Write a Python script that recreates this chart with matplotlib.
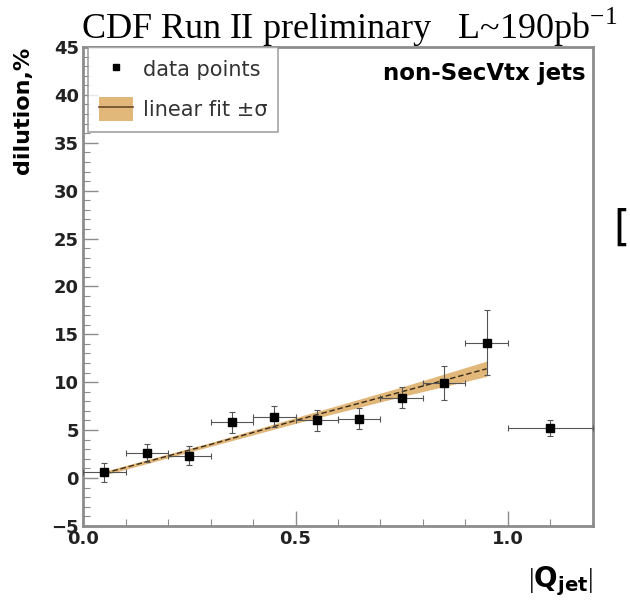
import matplotlib
matplotlib.use('Agg')
import matplotlib.pyplot as plt
from matplotlib.patches import Patch
from matplotlib.lines import Line2D
from matplotlib.ticker import MultipleLocator, FormatStrFormatter

plt.rcParams['mathtext.fontset'] = 'custom'
plt.rcParams['mathtext.rm'] = 'Liberation Serif'
plt.rcParams['mathtext.bf'] = 'DejaVu Sans:bold'

# data points (|Q_jet| bins)
q_center = [0.05, 0.15, 0.25, 0.35, 0.45, 0.55, 0.65, 0.75, 0.85, 0.95, 1.10]
q_halfwidth = [0.05, 0.05, 0.05, 0.05, 0.05, 0.05, 0.05, 0.05, 0.05, 0.05, 0.10]
dilution = [0.6, 2.6, 2.3, 5.8, 6.4, 6.0, 6.2, 8.4, 9.9, 14.1, 5.2]
dilution_err = [1.0, 0.9, 1.0, 1.1, 1.1, 1.1, 1.1, 1.1, 1.8, 3.4, 0.8]

# linear fit with +-sigma band
fit_x = [0.05, 0.30, 0.50, 0.75, 0.95]
fit_y = [0.5, 3.5, 6.0, 9.0, 11.4]
fit_lo = [0.3, 3.3, 5.7, 8.5, 10.6]
fit_hi = [0.7, 3.7, 6.3, 9.5, 12.2]

frame_col = '#8c8c8c'
band_col = '#e2b77a'

fig = plt.figure(figsize=(6.3, 6.03), dpi=100)
ax = fig.add_axes([0.132, 0.128, 0.809, 0.794])

ax.fill_between(fit_x, fit_lo, fit_hi, color=band_col, lw=0, zorder=1)
ax.plot(fit_x, fit_y, color='#3a2a1a', lw=1.0, ls=(0, (4, 2)), zorder=2)

ax.errorbar(q_center, dilution, xerr=q_halfwidth, yerr=dilution_err, fmt='s',
            ms=6, color='black', ecolor='#555555', elinewidth=0.8,
            capsize=2.5, capthick=0.8, zorder=3)

ax.set_xlim(0, 1.2)
ax.set_ylim(-5, 45)
ax.xaxis.set_major_locator(MultipleLocator(0.5))
ax.xaxis.set_minor_locator(MultipleLocator(0.1))
ax.yaxis.set_major_locator(MultipleLocator(5))
ax.yaxis.set_minor_locator(MultipleLocator(1))
ax.xaxis.set_major_formatter(FormatStrFormatter('%.1f'))
ax.tick_params(which='both', direction='in', color=frame_col, top=False, right=False)
ax.tick_params(which='major', length=11, width=1.0, labelsize=13, pad=3)
ax.tick_params(which='minor', length=5, width=0.8)
for lab in ax.get_xticklabels() + ax.get_yticklabels():
    lab.set_fontweight('bold')
    lab.set_family('DejaVu Sans')
    lab.set_color('#222222')
for sp in ax.spines.values():
    sp.set_color(frame_col)
    sp.set_linewidth(2.0)

ax.set_ylabel('dilution,%', fontsize=16, fontweight='bold', family='DejaVu Sans',
              loc='top')
ax.yaxis.set_label_coords(-0.098, 1.0)
ax.set_xlabel(r'$|\mathbf{Q}_{\mathbf{jet}}|$', fontsize=20, loc='right', labelpad=12)

ax.text(0.985, 0.945, 'non-SecVtx jets', transform=ax.transAxes, ha='right',
        va='center', fontsize=16.5, fontweight='bold', family='DejaVu Sans')

handles = [Line2D([], [], marker='s', ms=5, ls='none', color='black'),
           (Patch(facecolor=band_col, edgecolor='none'),
            Line2D([], [], color='#6b4a2a', lw=1.2))]
leg = ax.legend(handles, ['data points', 'linear fit ±σ'],
                loc='upper left', bbox_to_anchor=(0.01, 1.0),
                frameon=True, fancybox=False, borderaxespad=0, handlelength=1.65,
                handleheight=1.4, borderpad=0.5, labelspacing=0.75, handletextpad=0.5,
                prop={'family': 'DejaVu Sans', 'size': 15})
leg.get_frame().set_edgecolor(frame_col)
leg.get_frame().set_linewidth(1.2)
for t in leg.get_texts():
    t.set_color('#333333')

fig.text(0.128, 0.935, r'CDF Run II preliminary   L~190pb$^{\mathrm{-1}}$', fontsize=26,
         family='Liberation Serif', ha='left', va='baseline')
fig.text(0.999, 0.62, '[', fontsize=30, family='DejaVu Sans',
         ha='right', va='center')

fig.savefig('out.png', dpi=100)
